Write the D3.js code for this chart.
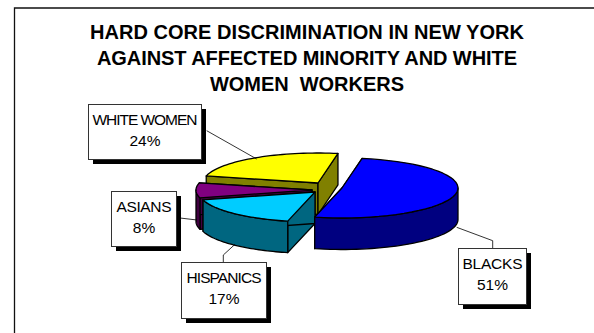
<!DOCTYPE html>
<html><head><meta charset="utf-8">
<script src="https://cdn.jsdelivr.net/npm/d3@7"></script>
<style>html,body{margin:0;background:#fff}svg{display:block}text{font-family:"Liberation Sans",Arial,sans-serif;fill:#000}</style>
</head><body><script>
const titleLines = ["HARD CORE DISCRIMINATION IN NEW YORK","AGAINST AFFECTED MINORITY AND WHITE","WOMEN  WORKERS"];
const categories = ["BLACKS","HISPANICS","ASIANS","WHITE WOMEN"];
const values = [51,17,8,24];
const topColors = ["#0000ff","#00ccff","#800080","#ffff00"];
const sideColors = ["#000080","#006680","#400040","#808000"];

const svg = d3.select("body").append("svg").attr("width",594).attr("height",333);
svg.append("rect").attr("width",594).attr("height",333).attr("fill","#fff");
svg.append("path").attr("d","M14.5,333V8H594").attr("fill","none").attr("stroke","#111").attr("stroke-width",1.3);

const titleWidths=[434,420,194];
svg.selectAll("text.title").data(titleLines).join("text").attr("class","title")
  .attr("x",307).attr("y",(d,i)=>[38.5,65,91][i]).attr("text-anchor","middle")
  .attr("textLength",(d,i)=>titleWidths[i]).attr("lengthAdjust","spacing")
  .style("white-space","pre").attr("font-weight","bold").attr("font-size",20).text(d=>d);

const ry=30, depth=31.5;
const centers={ "BLACKS":[342,188], "HISPANICS":[315,192], "ASIANS":[312,190], "WHITE WOMEN":[318,183] };
const radiusX={ "BLACKS":116, "HISPANICS":116, "ASIANS":116, "WHITE WOMEN":115 };
const boxes={ "BLACKS":[458.5,248.5,68,56], "HISPANICS":[181.5,262.5,85,56], "ASIANS":[111.5,191.5,65,55], "WHITE WOMEN":[88.5,104.5,113,55] };
const labelWidths={ "BLACKS":60, "HISPANICS":75, "ASIANS":55, "WHITE WOMEN":105 };
const leaders={ "BLACKS":[[492.7,248],[492.7,240.7],[456.7,227.3]], "HISPANICS":[[223.3,262.7],[223.3,255],[235,244.3]], "ASIANS":[[180,218],[197,220]], "WHITE WOMEN":[[206.7,130.7],[256.7,159]] };

const arcs=d3.pie().sort(null).startAngle(10*Math.PI/180).endAngle((10+360)*Math.PI/180)(values)
  .map((a,i)=>({...a,name:categories[i],top:topColors[i],side:sideColors[i]}));

function pt(d,t){const c=centers[d.name],r=radiusX[d.name];return [c[0]+r*Math.sin(t),c[1]-ry*Math.cos(t)];}
function arcPts(d,a,b){return d3.range(0,41).map(i=>pt(d,a+(b-a)*i/40));}
const line=d3.line();
const g=svg.append("g").attr("stroke","#000").attr("stroke-width",1.3).attr("stroke-linejoin","round");
["WHITE WOMEN","ASIANS","HISPANICS","BLACKS"].forEach(n=>{
  const d=arcs.find(x=>x.name===n), c=centers[n];
  [d.startAngle,d.endAngle].forEach(t=>{
    const p=pt(d,t);
    g.append("path").attr("fill",d.side)
      .attr("d",line([c,p,[p[0],p[1]+depth],[c[0],c[1]+depth]])+"Z");
  });
  const a=Math.max(d.startAngle,Math.PI/2), b=Math.min(d.endAngle,Math.PI*1.5);
  if(b>a){
    const rim=arcPts(d,a,b);
    const low=rim.map(p=>[p[0],p[1]+depth]).reverse();
    g.append("path").attr("fill",d.side).attr("d",line(rim.concat(low))+"Z");
  }
  g.append("path").attr("fill",d.top)
    .attr("d",line([c].concat(arcPts(d,d.startAngle,d.endAngle)))+"Z");
});

categories.forEach((n,i)=>{
  const [x,y,w,h]=boxes[n];
  svg.append("path").attr("d",line(leaders[n])).attr("fill","none").attr("stroke","#000").attr("stroke-width",0.8);
  svg.append("rect").attr("x",x+4.5).attr("y",y+4.5).attr("width",w).attr("height",h).attr("fill","#000");
  svg.append("rect").attr("x",x).attr("y",y).attr("width",w).attr("height",h).attr("fill","#fff").attr("stroke","#333").attr("stroke-width",1);
  svg.append("text").attr("x",x+w/2).attr("y",y+20).attr("text-anchor","middle").attr("font-size",15.5)
    .attr("textLength",labelWidths[n]).attr("lengthAdjust","spacing").text(n);
  svg.append("text").attr("x",x+w/2).attr("y",y+41).attr("text-anchor","middle").attr("font-size",15.5).text(values[i]+"%");
});
</script></body></html>
